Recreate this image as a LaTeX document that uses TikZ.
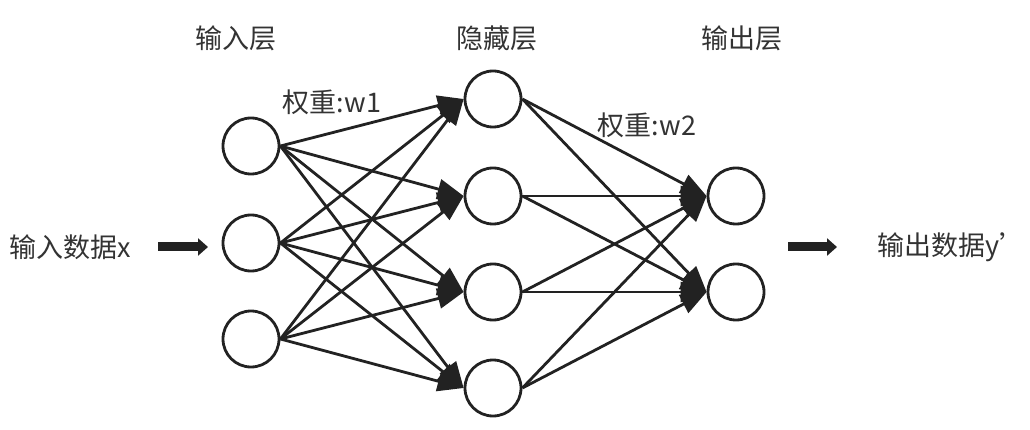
\documentclass[tikz,border=0pt]{standalone}
\usepackage{fontspec}
\newfontfamily\cjk{Noto Sans CJK SC}
\usetikzlibrary{arrows.meta}
\definecolor{ink}{HTML}{222222}
\definecolor{txt}{HTML}{333333}
\begin{document}
\begin{tikzpicture}[x=1pt,y=-1pt,
  neuron/.style={circle,draw=ink,line width=2.8pt,minimum size=56pt,inner sep=0pt,fill=white},
  lbl/.style={font=\cjk\fontsize{27}{32}\selectfont,text=txt,inner sep=0pt},
  conn/.style={draw=ink,line width=2.8pt,-{Triangle[length=26pt,width=20pt]}},
  fat/.style={draw=ink,line width=9pt,-{Triangle[length=10pt,width=17pt]}}]
\useasboundingbox (0,0) rectangle (1030,430);
% input layer
\node[neuron] (i1) at (251,146) {};
\node[neuron] (i2) at (251,243) {};
\node[neuron] (i3) at (251,339) {};
% hidden layer
\node[neuron] (h1) at (493,99) {};
\node[neuron] (h2) at (493,196) {};
\node[neuron] (h3) at (493,292) {};
\node[neuron] (h4) at (493,388) {};
% output layer
\node[neuron] (o1) at (736,196) {};
\node[neuron] (o2) at (736,292) {};
% connections
\foreach \a in {i1,i2,i3}{
  \foreach \b in {h1,h2,h3,h4}{
    \path[conn] (\a.east) -- (\b.west);
  }
}
\foreach \a in {h1,h2,h3,h4}{
  \foreach \b in {o1,o2}{
    \path[conn] (\a.east) -- (\b.west);
  }
}
% labels
\node[lbl] (t1) at (236,38) {输入层};
\node[lbl] (t2) at (497,38) {隐藏层};
\node[lbl] (t3) at (742,38) {输出层};
\node[lbl] (w1) at (332,102) {权重:w1};
\node[lbl] (w2) at (647,125) {权重:w2};
\node[lbl] (xin) at (70,247) {输入数据x};
\node[lbl] (yout) at (952,247) {输出数据y’};
% fat arrows
\coordinate (a1s) at (158,247);
\coordinate (a1e) at (208,247);
\coordinate (a2s) at (788,247);
\coordinate (a2e) at (837,247);
\draw[fat] (a1s) -- (a1e);
\draw[fat] (a2s) -- (a2e);
\end{tikzpicture}
\end{document}
